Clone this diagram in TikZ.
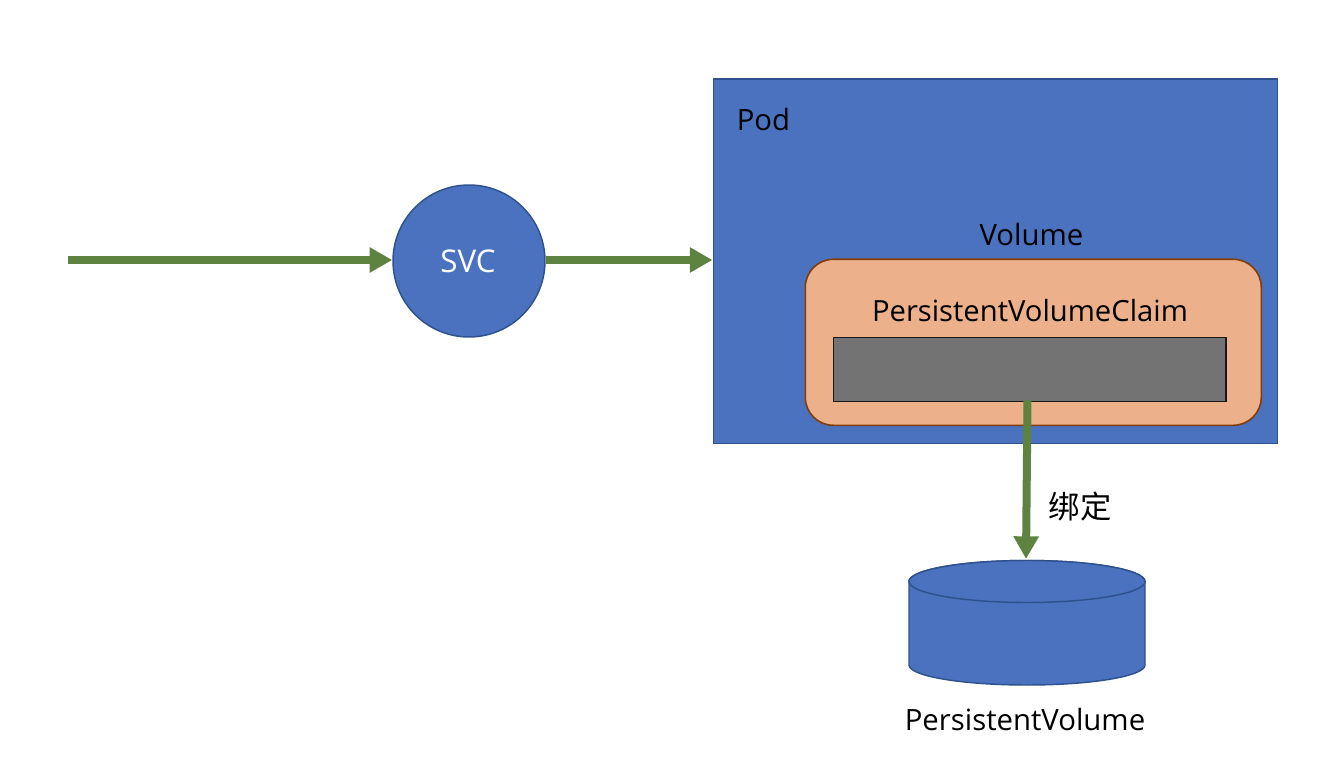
\documentclass[tikz,border=0pt]{standalone}
\usepackage{fontspec}
\setmainfont{Open Sans}
\newfontfamily\cjk{Noto Sans CJK SC}
\usetikzlibrary{arrows.meta,calc}
\definecolor{blu}{HTML}{4A72BE}
\definecolor{blud}{HTML}{2F528F}
\definecolor{org}{HTML}{ECB18A}
\definecolor{orgd}{HTML}{843C0C}
\definecolor{gry}{HTML}{737373}
\definecolor{grn}{HTML}{5E8240}
\tikzset{
 flow/.style={draw=grn,line width=6pt,-{Triangle[length=17pt,width=18pt]}},
 lbl/.style={font=\fontsize{22pt}{26pt}\selectfont,inner sep=0pt,text=black},
}
\begin{document}
\begin{tikzpicture}[x=0.75pt,y=-0.75pt]
\useasboundingbox (0,0) rectangle (1336,770);
\fill[white] (0,0) rectangle (1336,770);
\node[draw=blud,fill=blu,line width=1.1pt,minimum width=564.5*0.75pt,minimum height=364*0.75pt,inner sep=0pt,anchor=north west] (pod) at (712.5,78.5) {};
\node[lbl] (podl) at (763.5,119.5) {Pod};
\node[lbl] (voll) at (1031.5,234.5) {Volume};
\node[draw=orgd,fill=org,line width=1.2pt,rounded corners=21pt,minimum width=456*0.75pt,minimum height=166*0.75pt,inner sep=0pt,anchor=north west] (vol) at (804.5,258.5) {};
\node[lbl,font=\fontsize{21.9pt}{26pt}\selectfont] (pvcl) at (1030,311) {PersistentVolumeClaim};
\node[draw=black!90,fill=gry,line width=1.4pt,minimum width=392.5*0.75pt,minimum height=64*0.75pt,inner sep=0pt,anchor=north west] (pvc) at (832.5,336.5) {};
\node[circle,draw=blud,fill=blu,line width=1.1pt,minimum size=152*0.75pt,inner sep=0pt] (svc) at (469,261) {};
\node[lbl,text=white,font=\fontsize{23.5pt}{28pt}\selectfont] (svcl) at (468,261) {SVC};
\coordinate (start) at (68,260);
\draw[flow] (start) -- (svc.west |- start);
\draw[flow] (svc.east |- start) -- (pod.west |- start);
% cylinder
\path[draw=blud,fill=blu,line width=1.1pt] (909,581.5) -- (909,665) arc[start angle=180,end angle=360,x radius=118,y radius=-20] -- (1145,581.5) arc[start angle=0,end angle=180,x radius=118,y radius=-21] -- cycle;
\path[draw=blud,fill=blu,line width=1.1pt] (1027,581.5) ellipse[x radius=118,y radius=21];
\coordinate (pvtop) at (1026,559);
\coordinate (pvcb) at (1027.5,400);
\draw[flow] (pvcb) -- (pvtop);
\node[font=\fontsize{23.5pt}{28pt}\cjk\selectfont,inner sep=0pt] (bind) at (1080,506.5) {绑定};
\node[lbl] (pvl) at (1025,719.5) {PersistentVolume};
\end{tikzpicture}
\end{document}
